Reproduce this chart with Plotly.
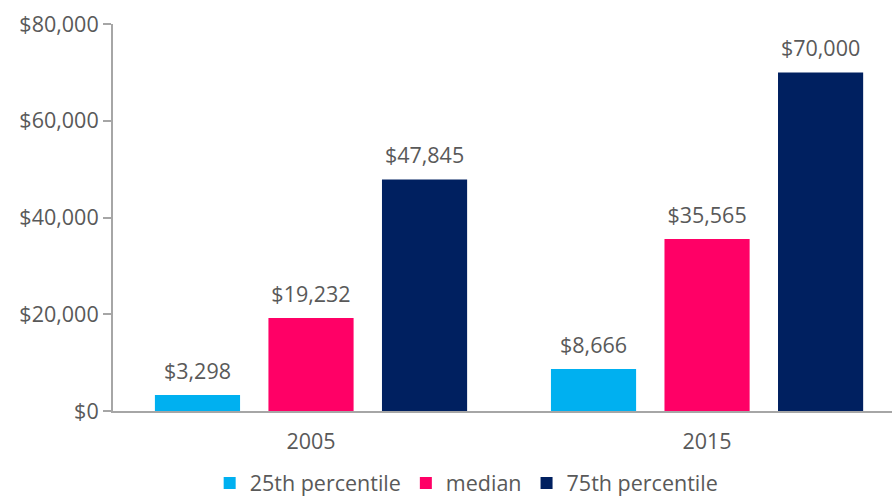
import plotly.graph_objects as go

years = ["2005", "2015"]
p25 = [3298, 8666]
median = [19232, 35565]
p75 = [47845, 70000]
series_names = ["25th percentile", "median", "75th percentile"]
colors = ["#00B0F0", "#FF0066", "#002060"]
y_ticks = [0, 20000, 40000, 60000, 80000]
y_tick_text = ["$0", "$20,000", "$40,000", "$60,000", "$80,000"]

FONT = "Open Sans, Lato, sans-serif"
GREY = "#595959"
FS = 21.5

fig = go.Figure()
for i, (name, vals, col) in enumerate(zip(series_names, [p25, median, p75], colors)):
    fig.add_trace(go.Bar(
        x=years, y=vals, name=name, marker_color=col, marker_line_width=0,
        offsetgroup=str(i), hoverinfo="skip",
    ))
for i, (name, vals) in enumerate(zip(series_names, [p25, median, p75])):
    fig.add_trace(go.Scatter(
        x=years, y=vals, mode="markers+text", offsetgroup=str(i),
        marker=dict(size=16, opacity=0), showlegend=False,
        text=[f"${v:,.0f}" for v in vals], textposition="top center",
        textfont=dict(size=FS, color=GREY, family=FONT), cliponaxis=False,
        hoverinfo="skip",
    ))

fig.update_layout(
    width=892, height=498,
    margin=dict(l=113, r=0, t=24, b=87, autoexpand=False),
    paper_bgcolor="white", plot_bgcolor="white",
    barmode="group", bargap=0.14, bargroupgap=0.25,
    scattermode="group", scattergap=0.14,
    font=dict(family=FONT, color=GREY, size=FS),
    legend=dict(orientation="h", x=0.454, xanchor="center", y=-0.133, yanchor="top",
                font=dict(size=FS, color=GREY, family=FONT), itemwidth=30,
                traceorder="normal"),
    showlegend=True,
)
fig.update_xaxes(range=[-0.5, 1.467], showline=True, linecolor="#A6A6A6", linewidth=2,
                 ticks="outside", ticklen=10, tickcolor="rgba(0,0,0,0)", automargin=False,
                 tickfont=dict(size=FS, color=GREY, family=FONT), showgrid=False)
fig.update_yaxes(range=[0, 80000], tickvals=y_ticks, ticktext=y_tick_text,
                 showline=True, linecolor="#A6A6A6", linewidth=2, automargin=False,
                 ticks="outside", ticklen=8, tickcolor="#A6A6A6", tickwidth=2,
                 tickfont=dict(size=FS, color=GREY, family=FONT), showgrid=False,
                 zeroline=False)

fig.write_html("out.html", config={"displayModeBar": False},
               post_script="document.body.style.margin='0';document.body.style.overflow='hidden';")
